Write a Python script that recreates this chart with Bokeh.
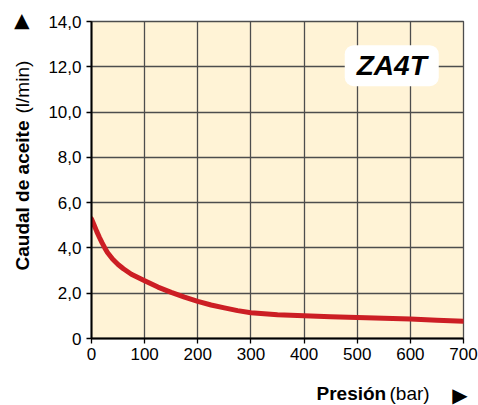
from bokeh.plotting import figure
from bokeh.models import Range1d, Label, FixedTicker
from bokeh.layouts import row, column
from bokeh.core.properties import value
from bokeh.embed import file_html
from bokeh.resources import INLINE
import math

# Data
pressure_bar = [0, 5, 10, 15, 20, 25, 30, 40, 50, 60, 75, 100, 125, 150, 175, 200,
                225, 250, 275, 300, 350, 400, 450, 500, 550, 600, 650, 700]
flow_lmin = [5.28, 5.0, 4.72, 4.46, 4.22, 4.0, 3.8, 3.5, 3.27, 3.08, 2.84, 2.55, 2.27, 2.04, 1.83, 1.64,
             1.48, 1.35, 1.23, 1.14, 1.05, 1.0, 0.965, 0.93, 0.895, 0.86, 0.81, 0.76]

x_ticks = [0, 100, 200, 300, 400, 500, 600, 700]
y_ticks = [0, 2, 4, 6, 8, 10, 12, 14]
y_tick_labels = ["0", "2,0", "4,0", "6,0", "8,0", "10,0", "12,0", "14,0"]

model_name = "ZA4T"
x_title_bold = "Presión"
x_title_rest = "(bar)"
y_title_bold = "Caudal de aceite"
y_title_rest = "(l/min)"
arrow = "▶"

FONT = "Liberation Sans"
TOTAL_W = 478
TOTAL_H = 405
LEFT_W = 40
MAIN_W = TOTAL_W - LEFT_W
MAIN_H = 374
BOTTOM_H = TOTAL_H - MAIN_H

# ---- main chart ----
p = figure(width=MAIN_W, height=MAIN_H, output_backend="svg", toolbar_location=None,
           x_range=Range1d(0, 700), y_range=Range1d(0, 14),
           min_border_left=91 - LEFT_W, min_border_right=TOTAL_W - 463,
           min_border_top=21, min_border_bottom=MAIN_H - 338)
p.background_fill_color = "#fff3d6"
p.border_fill_color = "white"
p.outline_line_color = "#4d4d4d"
p.outline_line_width = 1.3

for g in (p.xgrid, p.ygrid):
    g.grid_line_color = "#4d4d4d"
    g.grid_line_width = 1.3
p.xaxis.ticker = FixedTicker(ticks=x_ticks)
p.yaxis.ticker = FixedTicker(ticks=y_ticks)
p.yaxis.major_label_overrides = {t: l for t, l in zip(y_ticks, y_tick_labels)}

for ax in (p.xaxis, p.yaxis):
    ax.axis_line_color = "black"
    ax.axis_line_width = 2
    ax.major_tick_line_color = "black"
    ax.major_tick_line_width = 1.3
    ax.major_tick_out = 5
    ax.major_tick_in = 0
    ax.minor_tick_line_color = None
    ax.major_label_text_font = FONT
    ax.major_label_text_font_size = "17px"
    ax.major_label_text_color = "black"
p.yaxis.major_label_standoff = 5
p.xaxis.major_label_standoff = 4

p.line(pressure_bar, flow_lmin, line_color="#cc1e24", line_width=5, line_cap="round",
       line_join="round")

# Model badge
p.add_layout(Label(x=565, y=12.05, text=model_name,
                   text_font=FONT, text_font_size="28px", text_font_style="bold italic",
                   text_align="center", text_baseline="middle", text_color="black",
                   background_fill_color="white", border_radius=9, padding=(12, 5)))

# ---- left strip with the y title (pixel coordinates, y downwards) ----
lf = figure(width=LEFT_W, height=TOTAL_H, output_backend="svg", toolbar_location=None,
            x_range=Range1d(0, LEFT_W), y_range=Range1d(TOTAL_H, 0),
            min_border=0)
lf.axis.visible = False
lf.grid.visible = False
lf.outline_line_color = None
lf.text(x=[22], y=[270], text=[y_title_bold], angle=math.pi / 2,
        text_font=value(FONT), text_font_size="19px", text_font_style="bold",
        text_align="left", text_baseline="middle", text_color="black")
lf.text(x=[22], y=[113], text=[y_title_rest], angle=math.pi / 2,
        text_font=value(FONT), text_font_size="19px",
        text_align="left", text_baseline="middle", text_color="black")
lf.text(x=[19], y=[21], text=[arrow], angle=math.pi / 2,
        text_font=value("DejaVu Sans"), text_font_size="20px",
        text_align="center", text_baseline="middle", text_color="black")

# ---- bottom strip with the x title (pixel coordinates) ----
bf = figure(width=MAIN_W, height=BOTTOM_H, output_backend="svg", toolbar_location=None,
            x_range=Range1d(LEFT_W, TOTAL_W), y_range=Range1d(TOTAL_H, MAIN_H),
            min_border=0)
bf.axis.visible = False
bf.grid.visible = False
bf.outline_line_color = None
bf.text(x=[316], y=[393], text=[x_title_bold],
        text_font=value(FONT), text_font_size="19px", text_font_style="bold",
        text_align="left", text_baseline="middle", text_color="black")
bf.text(x=[389], y=[393], text=[x_title_rest],
        text_font=value(FONT), text_font_size="19px",
        text_align="left", text_baseline="middle", text_color="black")
bf.text(x=[459.5], y=[394], text=[arrow],
        text_font=value("DejaVu Sans"), text_font_size="20px",
        text_align="center", text_baseline="middle", text_color="black")

layout = row(lf, column(row(p), bf))
open("out.html", "w").write(file_html(layout, INLINE))
